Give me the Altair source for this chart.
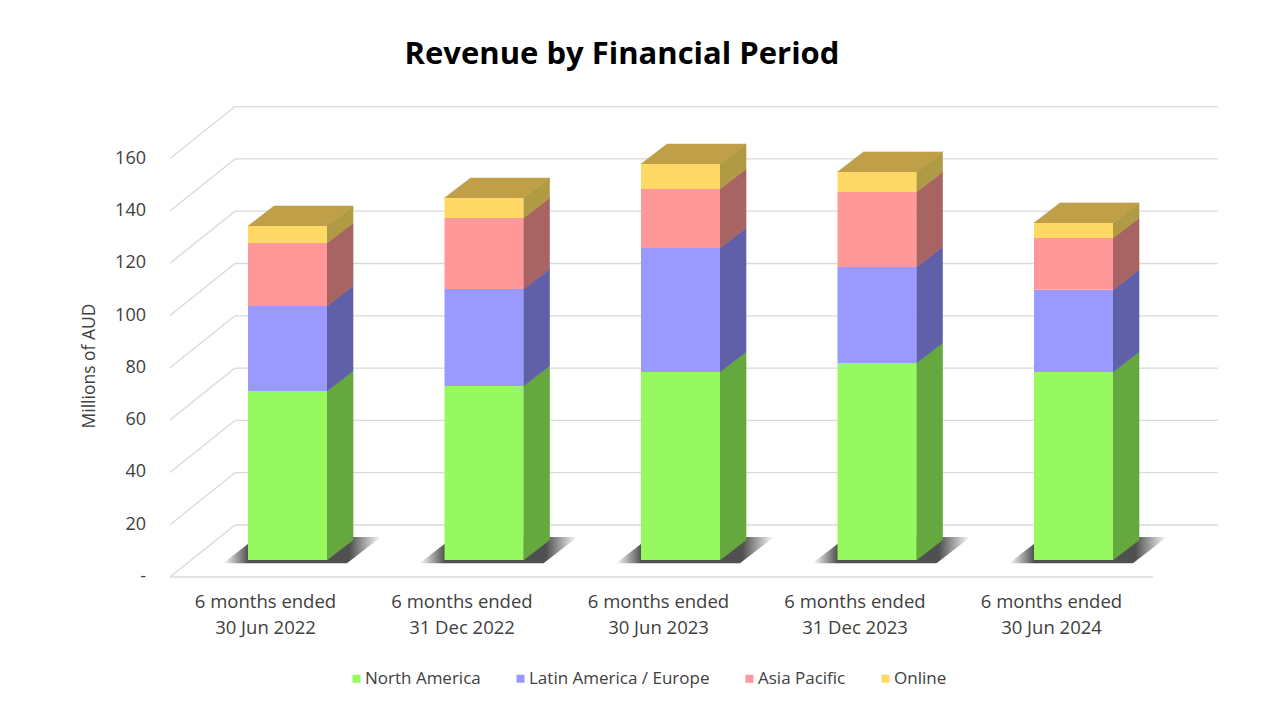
import altair as alt
import pandas as pd

# ---------------- data ----------------
categories = [
    "6 months ended\n30 Jun 2022",
    "6 months ended\n31 Dec 2022",
    "6 months ended\n30 Jun 2023",
    "6 months ended\n31 Dec 2023",
    "6 months ended\n30 Jun 2024",
]
series = ["North America", "Latin America / Europe", "Asia Pacific", "Online"]
north_america = [64.6, 66.5, 71.9, 75.3, 71.9]
latam_europe = [32.5, 37.1, 47.4, 36.7, 31.4]
asia_pacific = [24.1, 27.2, 22.6, 28.7, 19.8]
online = [6.5, 7.6, 9.5, 7.7, 5.8]
y_ticks = [0, 20, 40, 60, 80, 100, 120, 140, 160]
y_tick_labels = ["-", "20", "40", "60", "80", "100", "120", "140", "160"]
y_title = "Millions of AUD"
chart_title = "Revenue by Financial Period"

front_colors = ["#96F960", "#9999FF", "#FF9999", "#FFD966"]
side_colors = ["#64A83E", "#6060A8", "#A86363", "#B09A44"]
top_color = "#BFA048"

# ---------------- 3D geometry (style constants, in scale units) ----------------
PX_X = 196.5          # px per category step
PX_Y = 2.615          # px per value unit
HW = 39.5 / PX_X      # half bar width
DDU, DDV = 26 / PX_X, 20 / PX_Y          # bar depth
FDU, FDV = -22 / PX_X, -17 / PX_Y        # front plane offset
BDU, BDV = 43 / PX_X, 35 / PX_Y          # back wall offset
WALL_L = -0.598
WALL_R = 4.404

plot_w, plot_h = 1080, 495
x_dom = [(150 - 287.5) / PX_X, (1230 - 287.5) / PX_X]
y_dom = [(560 - 590) / PX_Y, (560 - 95) / PX_Y]

values = [north_america, latam_europe, asia_pacific, online]

front_rows, poly_rows, shadow_rows = [], [], []
for i, cat in enumerate(categories):
    base = 0.0
    ul, ur = i - HW, i + HW
    for s, vals, sc in zip(series, values, side_colors):
        lo, hi = base, base + vals[i]
        front_rows.append(dict(x=ul, x2=ur, y=lo, y2=hi, series=s))
        key = f"{i}-{s}"
        poly_rows.append(dict(key=key, x=ur, y=lo, y2=hi, fillc=sc))
        poly_rows.append(dict(key=key, x=ur + DDU, y=lo + DDV, y2=hi + DDV, fillc=sc))
        base = hi
    t = base
    key = f"{i}-top"
    for xx, a, b in [(ul, t, t), (ul + DDU, t, t + DDV), (ur, t, t + DDV), (ur + DDU, t + DDV, t + DDV)]:
        poly_rows.append(dict(key=key, x=xx, y=a, y2=b, fillc=top_color))
    # floor shadow
    f_v, b_v = -1.2, 8.8
    s_sh = 34 / PX_X
    a_x = ul - 25 / PX_X
    b_x = ur + 20 / PX_X
    for xx, a, b in [(a_x, f_v, f_v), (a_x + s_sh, f_v, b_v), (b_x, f_v, b_v), (b_x + s_sh, b_v, b_v)]:
        shadow_rows.append(dict(key=str(i), x=xx, y=a, y2=b))

front_df = pd.DataFrame(front_rows)
poly_df = pd.DataFrame(poly_rows)
shadow_df = pd.DataFrame(shadow_rows)

grid_back = pd.DataFrame(dict(x=[WALL_L + BDU - FDU] * len(y_ticks),
                              x2=[WALL_R + BDU - FDU] * len(y_ticks),
                              y=[k + BDV for k in y_ticks]))
grid_diag = pd.DataFrame(dict(x=[WALL_L] * len(y_ticks),
                              x2=[WALL_L + BDU - FDU] * len(y_ticks),
                              y=[k + FDV for k in y_ticks],
                              y2=[k + BDV for k in y_ticks]))
tick_df = pd.DataFrame(dict(y=[k + FDV for k in y_ticks], label=y_tick_labels))
floor_df = pd.DataFrame(dict(x=[WALL_L], x2=[WALL_R], y=[FDV]))
label_df = pd.DataFrame(dict(x=[i + FDU for i in range(len(categories))], label=categories))
ytitle_df = pd.DataFrame(dict(label=[y_title]))

FONT = "Open Sans"
TXT = "#404040"
xs = alt.Scale(domain=x_dom, nice=False, zero=False)
ys = alt.Scale(domain=y_dom, nice=False, zero=False)

grid_col = "#D9D9D9"
back = alt.Chart(grid_back).mark_rule(color=grid_col, strokeWidth=1.3).encode(
    x=alt.X("x:Q", scale=xs, axis=None), x2="x2:Q",
    y=alt.Y("y:Q", scale=ys, axis=None),
)
diag = alt.Chart(grid_diag).mark_rule(color=grid_col, strokeWidth=1.3).encode(
    x=alt.X("x:Q", scale=xs, axis=None), x2="x2:Q",
    y=alt.Y("y:Q", scale=ys, axis=None), y2="y2:Q",
)
floor = alt.Chart(floor_df).mark_rule(color=grid_col, strokeWidth=1.3).encode(
    x=alt.X("x:Q", scale=xs, axis=None), x2="x2:Q",
    y=alt.Y("y:Q", scale=ys, axis=None),
)
ticks = alt.Chart(tick_df).mark_text(
    font=FONT, fontSize=18, color=TXT, align="right", baseline="middle",
).encode(
    x=alt.value(-4),
    y=alt.Y("y:Q", scale=ys, axis=None),
    text="label:N",
)
ytitle = alt.Chart(ytitle_df).mark_text(
    font=FONT, fontSize=17.5, color=TXT, align="center", baseline="middle", angle=270,
).encode(
    x=alt.value(-60), y=alt.value(271), text="label:N",
)
shadow = alt.Chart(shadow_df).mark_area(
    orient="vertical",
    color={"gradient": "linear", "x1": 0, "x2": 1, "y1": 0, "y2": 0,
           "stops": [{"offset": 0, "color": "#ffffff"},
                     {"offset": 0.16, "color": "#505050"},
                     {"offset": 0.8, "color": "#505050"},
                     {"offset": 1, "color": "#ffffff"}]},
).encode(
    x=alt.X("x:Q", scale=xs, axis=None),
    y=alt.Y("y:Q", scale=ys, axis=None, stack=None), y2="y2:Q",
    detail="key:N",
)
sides = alt.Chart(poly_df).mark_area(orient="vertical", strokeWidth=0.6).encode(
    x=alt.X("x:Q", scale=xs, axis=None),
    y=alt.Y("y:Q", scale=ys, axis=None, stack=None), y2="y2:Q",
    detail="key:N",
    fill=alt.Fill("fillc:N", scale=None, legend=None),
    stroke=alt.Stroke("fillc:N", scale=None, legend=None),
)
fronts = alt.Chart(front_df).mark_rect(strokeWidth=0).encode(
    x=alt.X("x:Q", scale=xs, axis=None), x2="x2:Q",
    y=alt.Y("y:Q", scale=ys, axis=None), y2="y2:Q",
    color=alt.Color("series:N", scale=alt.Scale(domain=series, range=front_colors),
                    legend=alt.Legend(title=None, orient="none", legendX=198, legendY=575,
                                      direction="horizontal", columns=4,
                                      symbolType="square", symbolSize=64, symbolStrokeWidth=0,
                                      labelFont=FONT, labelFontSize=17, labelColor=TXT,
                                      labelLimit=400, labelOffset=0, columnPadding=31)),
)
labels = alt.Chart(label_df).mark_text(
    lineBreak="\n", font=FONT, fontSize=18.5, color=TXT, baseline="top", align="center",
    lineHeight=26,
).encode(
    x=alt.X("x:Q", scale=xs, axis=None),
    y=alt.value(498),
    text="label:N",
)

chart = alt.layer(back, diag, floor, ticks, ytitle, shadow, sides, fronts, labels).properties(
    width=plot_w, height=plot_h,
    title=alt.TitleParams(chart_title, font=FONT, fontSize=31,
                          fontWeight="bold", color="#000000", anchor="middle",
                          frame="group", dx=-68, offset=24),
    autosize=alt.AutoSizeParams(type="none"),
    padding={"left": 142, "top": 87, "right": 33, "bottom": 101},
).configure(background="white").configure_view(stroke=None)

chart.save("out.html", embed_options={"renderer": "svg", "actions": False})
